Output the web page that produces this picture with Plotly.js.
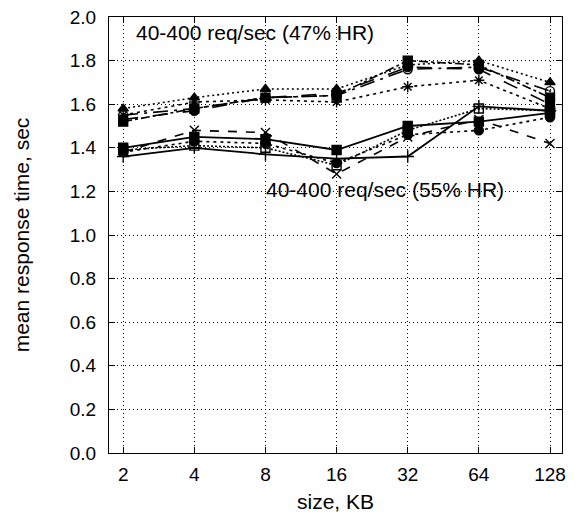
<!DOCTYPE html>
<html><head><meta charset="utf-8">
<script src="https://cdn.plot.ly/plotly-3.0.1.min.js"></script>
<style>html,body{margin:0;padding:0;background:#fff}#chart{width:575px;height:516px}</style>
</head><body><div id="chart"></div>
<script>
const sizes = [2, 4, 8, 16, 32, 64, 128];
const tickLabels = ["2", "4", "8", "16", "32", "64", "128"];
// 47% HR group
const hi_triangle = [1.58, 1.63, 1.67, 1.67, 1.78, 1.80, 1.70];
const hi_square   = [1.52, 1.58, 1.63, 1.64, 1.80, 1.78, 1.63];
const hi_circdot  = [1.55, 1.58, 1.63, 1.64, 1.76, 1.77, 1.66];
const hi_star     = [1.55, 1.61, 1.62, 1.61, 1.68, 1.71, 1.58];
const hi_circle   = [1.53, 1.57, 1.63, 1.65, 1.77, 1.76, 1.60];
// 55% HR group
const lo_plus     = [1.36, 1.40, 1.37, 1.35, 1.36, 1.59, 1.57];
const lo_square   = [1.40, 1.45, 1.44, 1.39, 1.50, 1.52, 1.56];
const lo_x        = [1.38, 1.48, 1.47, 1.28, 1.45, 1.53, 1.42];
const lo_opensq   = [1.39, 1.41, 1.40, 1.32, 1.48, 1.58, 1.57];
const lo_circle   = [1.38, 1.43, 1.42, 1.33, 1.46, 1.48, 1.54];

function tr(y, sym, dash, w) {
  return {x: sizes, y: y, type: 'scatter', mode: 'lines+markers',
    line: {color: '#000', width: w || 1.6, dash: dash},
    marker: {symbol: sym, size: 9, color: '#000', line: {color: '#000', width: 1.4}},
    showlegend: false, hoverinfo: 'skip'};
}
const data = [
  tr(hi_triangle, 'triangle-up', '2px,3px'),
  tr(hi_square, 'square', 'dashdot'),
  tr(hi_circdot, 'circle-open-dot', 'longdashdot'),
  tr(hi_star, 'asterisk-open', '3px,4px'),
  tr(hi_circle, 'circle', 'longdash'),
  tr(lo_plus, 'cross-thin-open', 'solid', 1.8),
  tr(lo_square, 'square', 'solid', 1.8),
  tr(lo_x, 'x-thin-open', 'dash'),
  tr(lo_opensq, 'square-open-dot', '2px,2px'),
  tr(lo_circle, 'circle', '3px,4px')
];
const font = {family: 'Liberation Sans, Arial, sans-serif', color: '#000'};
const layout = {
  width: 575, height: 516,
  margin: {l: 109, r: 13, t: 17, b: 63},
  paper_bgcolor: '#fff', plot_bgcolor: '#fff',
  font: Object.assign({size: 20}, font),
  xaxis: {type: 'log', range: [0.241, 2.158], tickvals: sizes, ticktext: tickLabels,
    showline: true, linecolor: '#000', linewidth: 1, mirror: 'allticks',
    ticks: 'inside', ticklen: 6, tickcolor: '#000',
    showgrid: true, gridcolor: '#000', griddash: '1px,3px', gridwidth: 1,
    zeroline: false, tickfont: {size: 19}, ticklabelstandoff: 4,
    title: {text: 'size, KB', font: {size: 21}, standoff: 10}},
  yaxis: {range: [0, 2.0], dtick: 0.2, tickformat: '.1f',
    showline: true, linecolor: '#000', linewidth: 1, mirror: 'allticks',
    ticks: 'inside', ticklen: 6, tickcolor: '#000',
    showgrid: true, gridcolor: '#000', griddash: '1px,3px', gridwidth: 1,
    zeroline: false, tickfont: {size: 19}, ticklabelstandoff: 8,
    title: {text: 'mean response time, sec', font: {size: 21}, standoff: 34}},
  annotations: [
    {text: '40-400 req/sec (47% HR)', xref: 'paper', yref: 'y', x: 0.055, y: 1.93,
     xanchor: 'left', yanchor: 'middle', showarrow: false, font: {size: 21}},
    {text: '40-400 req/sec (55% HR)', xref: 'paper', yref: 'y', x: 0.342, y: 1.21,
     xanchor: 'left', yanchor: 'middle', showarrow: false, font: {size: 21}}
  ]
};
Plotly.newPlot('chart', data, layout, {displayModeBar: false, staticPlot: true});
</script></body></html>
